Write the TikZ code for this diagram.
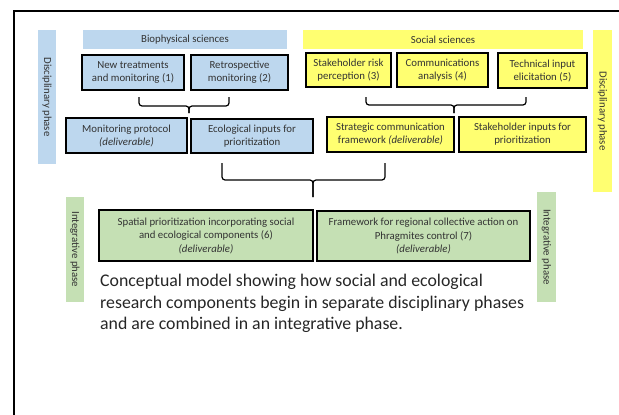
\documentclass[tikz,border=0pt]{standalone}
\usepackage{fontspec}
\setmainfont{Carlito}
\usepackage{xcolor}
\usetikzlibrary{calc}

\definecolor{bioblue}{HTML}{BDD7EE}
\definecolor{socyellow}{HTML}{FFFF71}
\definecolor{intgreen}{HTML}{C5E0B4}
\definecolor{txtgrey}{HTML}{333333}

\tikzset{
  box/.style={draw=black, line width=1.2pt, inner sep=0pt, align=center,
    text=txtgrey, font=\fontsize{10.8}{13}\selectfont},
  bluebox/.style={box, fill=bioblue},
  yellowbox/.style={box, fill=socyellow},
  greenbox/.style={box, fill=intgreen, font=\fontsize{10.8}{13.5}\selectfont},
  headbar/.style={inner sep=0pt, text=txtgrey, font=\fontsize{10.8}{12}\selectfont},
  phasebar/.style={headbar, rotate=-90},
  brace/.style={draw=black, line width=1.2pt, rounded corners=3pt}
}

\begin{document}
\begin{tikzpicture}[x=1pt,y=-1pt]
    \useasboundingbox (0,0) rectangle (619,415);

    % frame
    \draw[line width=1.5pt] (14,415) -- (14,11) -- (619,11);

    % disciplinary phase
    \node[phasebar, fill=bioblue, minimum width=134, minimum height=18] (dphaseL) at (47,97) {Disciplinary phase};
    \node[phasebar, fill=socyellow, minimum width=162, minimum height=19] (dphaseR) at (602.5,111) {Disciplinary phase};
    \node[headbar, fill=bioblue, minimum width=204, minimum height=19] (bioHead) at (185,39.5) {Biophysical sciences};
    \node[headbar, fill=socyellow, minimum width=280, minimum height=19] (socHead) at (443,39.5) {Social sciences};

    \node[bluebox, minimum width=102, minimum height=35] (newTreat) at (133,72.5) {New treatments\\and monitoring (1)};
    \node[bluebox, minimum width=97, minimum height=35] (retroMon) at (239.5,72.5) {Retrospective\\monitoring (2)};
    \node[yellowbox, minimum width=85, minimum height=34] (riskPerc) at (348.5,70) {Stakeholder risk\\perception (3)};
    \node[yellowbox, minimum width=91, minimum height=34] (commAnal) at (442.5,70) {Communications\\analysis (4)};
    \node[yellowbox, minimum width=89, minimum height=35] (techInput) at (542.5,70.5) {Technical input\\elicitation (5)};

    \node[bluebox, minimum width=121, minimum height=35] (monProt) at (126.5,135.5) {Monitoring protocol\\\textit{(deliverable)}};
    \node[bluebox, minimum width=122, minimum height=34] (ecoInput) at (252,136) {Ecological inputs for\\prioritization};
    \node[yellowbox, minimum width=127, minimum height=35] (stratComm) at (390.5,134.5) {Strategic communication\\framework \textit{(deliverable)}};
    \node[yellowbox, minimum width=127, minimum height=35] (stakeInput) at (522.5,134.5) {Stakeholder inputs for\\prioritization};

    % integrative phase
    \node[phasebar, fill=intgreen, minimum width=105, minimum height=18] (iphaseL) at (75,249.5) {Integrative phase};
    \node[phasebar, fill=intgreen, minimum width=110, minimum height=19] (iphaseR) at (546.5,247) {Integrative phase};
    \node[greenbox, minimum width=214, minimum height=51] (spatPrio) at (206,235.5) {Spatial prioritization incorporating social\\and ecological components (6)\\\textit{(deliverable)}};
    \node[greenbox, minimum width=213, minimum height=50] (regFrame) at (423.5,236) {Framework for regional collective action on\\Phragmites control (7)\\\textit{(deliverable)}};

    \node[anchor=north west, inner sep=0pt, align=left, text=black!85,
      font=\fontsize{17.8}{21.5}\selectfont] (caption) at (100,274)
      {Conceptual model showing how social and ecological\\research components begin in separate disciplinary phases\\and are combined in an integrative phase.};

    % brackets
    \coordinate (bioL) at (139,97);
    \coordinate (bioR) at (229,97);
    \coordinate (bioT) at (189,113);
    \coordinate (socL) at (366,97);
    \coordinate (socR) at (526,97);
    \coordinate (socT) at (454,113);
    \coordinate (allL) at (222,163);
    \coordinate (allR) at (385,163);
    \coordinate (allT) at (313,197);

    \draw[brace] (bioL) |- ($(bioT)+(0,-7)$) -- (bioT);
    \draw[brace] (bioR) |- ($(bioT)+(0,-7)$) -- (bioT);
    \draw[brace] (socL) |- ($(socT)+(0,-8)$) -- (socT);
    \draw[brace] (socR) |- ($(socT)+(0,-8)$) -- (socT);
    \draw[brace] (allL) |- ($(allT)+(0,-17)$) -- (allT);
    \draw[brace] (allR) |- ($(allT)+(0,-17)$) -- (allT);

\end{tikzpicture}
\end{document}
